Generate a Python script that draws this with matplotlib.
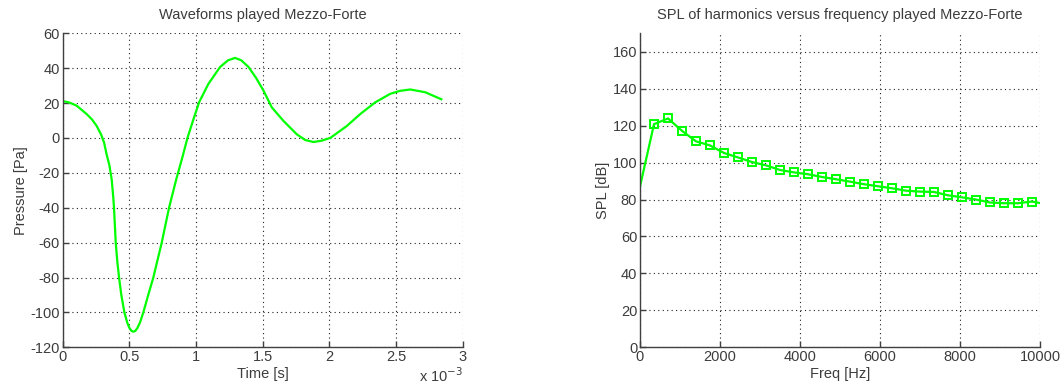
import numpy as np
import matplotlib.pyplot as plt
from matplotlib.ticker import FuncFormatter

plt.rcParams['font.family'] = ['Liberation Sans', 'DejaVu Sans']
plt.rcParams['axes.unicode_minus'] = False

# waveform (time in ms, pressure in Pa)
t_ms = [0.0, 0.05, 0.105, 0.18, 0.22, 0.255, 0.288, 0.31, 0.33, 0.35, 0.368, 0.38, 0.385,
        0.398, 0.41, 0.423, 0.44, 0.463, 0.485, 0.50, 0.515, 0.53, 0.545, 0.56, 0.58,
        0.605, 0.64, 0.68, 0.743, 0.798, 0.851, 0.90, 0.936, 0.98,
        1.023, 1.093, 1.181, 1.24, 1.293, 1.34, 1.394, 1.45, 1.506, 1.569, 1.656, 1.756,
        1.82, 1.881, 1.94, 2.007, 2.132, 2.232, 2.344, 2.457, 2.53, 2.607, 2.72, 2.84]
pressure = [21.2, 20.3, 18.5, 13.7, 10.6, 6.9, 2.0, -2.5, -9.5, -15.5, -24.0, -34.5, -40.0,
            -60.0, -71.0, -80.0, -90.0, -100.0, -106.0, -108.8, -110.5, -111.1, -110.6, -109.0, -105.8,
            -100.0, -90.5, -80.0, -60.0, -40.0, -24.0, -10.5, 0.0, 10.5,
            20.4, 31.0, 40.7, 44.5, 45.9, 44.5, 40.7, 34.5, 27.2, 17.5, 9.8, 2.1,
            -1.2, -2.3, -1.6, 0.0, 6.9, 13.7, 20.4, 25.3, 27.0, 27.8, 26.2, 22.2]

# harmonic spectrum (f0 ~ 350 Hz, DC point first)
freq = [0, 350, 700, 1050, 1400, 1750, 2100, 2450, 2800, 3150, 3500, 3850, 4200,
        4550, 4900, 5250, 5600, 5950, 6300, 6650, 7000, 7350, 7700, 8050, 8400,
        8750, 9100, 9450, 9800, 10150]
spl = [87.0, 120.8, 123.9, 117.2, 111.5, 109.3, 105.2, 102.8, 100.3, 98.5, 96.0,
       94.7, 93.7, 92.2, 91.0, 89.7, 88.3, 87.2, 86.1, 84.8, 84.3, 84.1, 82.3,
       81.2, 80.0, 78.4, 78.0, 78.0, 78.9, 77.5]

green = (0, 1, 0)
txt = '#3c3c3c'

fig = plt.figure(figsize=(10.64, 3.9), dpi=100)
ax1 = fig.add_axes([0.0589, 0.1095, 0.3759, 0.8051])
ax2 = fig.add_axes([0.6015, 0.1095, 0.3759, 0.8051])


def style(ax):
    ax.grid(True, linestyle=(0, (1, 3)), color='#202020', linewidth=0.8)
    ax.set_axisbelow(True)
    for s in ['top', 'right']:
        ax.spines[s].set_visible(False)
    for s in ['left', 'bottom']:
        ax.spines[s].set_color('#404040')
        ax.spines[s].set_linewidth(1.0)
    ax.tick_params(direction='in', length=4, width=1, color='#404040',
                   labelsize=10.5, labelcolor=txt, pad=2)


t = np.array(t_ms) * 1e-3
ax1.plot(t, pressure, color=green, lw=1.6)
ax1.set_xlim(0, 3e-3)
ax1.set_ylim(-120, 60)
ax1.set_xticks(np.arange(0, 3.01, 0.5) * 1e-3)
ax1.set_yticks(np.arange(-120, 61, 20))
ax1.xaxis.set_major_formatter(FuncFormatter(lambda v, p: '%g' % round(v * 1e3, 3)))
style(ax1)
ax1.set_title('Waveforms played Mezzo-Forte', fontsize=10.5, color=txt, pad=10)
ax1.set_xlabel('Time [s]', fontsize=10.5, color=txt, labelpad=2)
ax1.set_ylabel('Pressure [Pa]', fontsize=10.5, color=txt, labelpad=2)
ax1.text(1.0, -0.06, 'x 10$^{-3}$', transform=ax1.transAxes, ha='right', va='top',
         fontsize=10.5, color=txt)

ax2.plot(freq, spl, color=green, lw=1.6, marker='s', markersize=6,
         markerfacecolor='none', markeredgecolor=green, markeredgewidth=1.4,
         markevery=list(range(1, len(freq) - 1)))
ax2.set_xlim(0, 10000)
ax2.set_ylim(0, 170)
ax2.set_xticks(np.arange(0, 10001, 2000))
ax2.set_yticks(np.arange(0, 161, 20))
style(ax2)
ax2.set_title('SPL of harmonics versus frequency played Mezzo-Forte', fontsize=10.5,
              color=txt, pad=10)
ax2.set_xlabel('Freq [Hz]', fontsize=10.5, color=txt, labelpad=2)
ax2.set_ylabel('SPL [dB]', fontsize=10.5, color=txt, labelpad=2)

fig.savefig('out.png', dpi=100)
